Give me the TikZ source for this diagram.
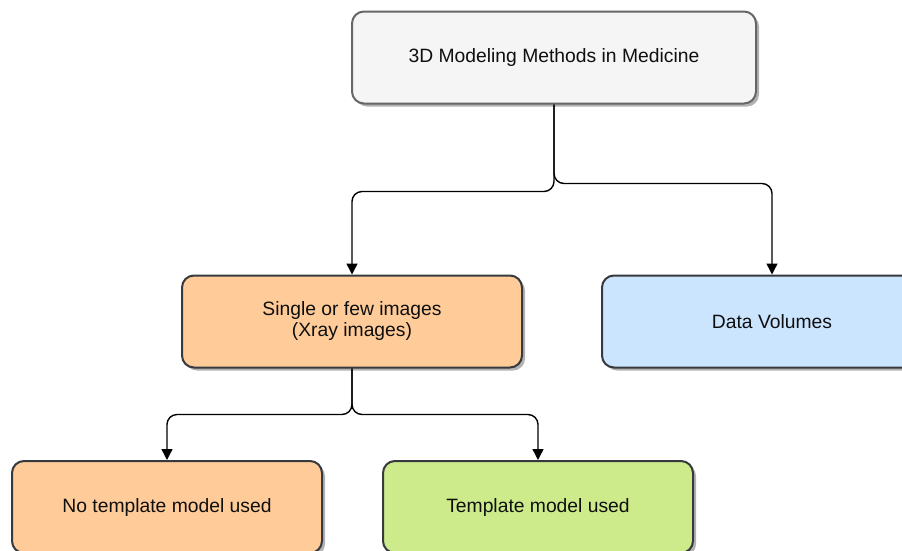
\documentclass[tikz,border=0pt]{standalone}
\usepackage{fontspec}
\setmainfont{Liberation Sans}
\usepackage{tikz}
\usetikzlibrary{positioning,arrows.meta,shadows}
\definecolor{colortop}    {RGB}{245,245,245}
\definecolor{colororange} {RGB}{255,204,153}
\definecolor{colorblue}   {RGB}{204,229,255}
\definecolor{colorgreen}  {RGB}{205,235,139}
\definecolor{colorborder} {RGB}{54 ,57 ,61 }
\definecolor{colorgrey}   {RGB}{102,102,102}
\definecolor{colortext}   {RGB}{15 ,15 ,15 }

\begin{document}
\begin{tikzpicture}[
    x=1pt, y=-1pt,
    font={\fontsize{19.3}{21}\selectfont},
    base/.style={text=colortext,align=center,rectangle,rounded corners=12pt,
        line width=2pt,draw=colorborder,inner sep=0pt,minimum height=92pt,
        drop shadow={shadow xshift=3pt,shadow yshift=-3pt,fill=black,opacity=0.3}},
    topbox/.style={base,fill=colortop,draw=colorgrey,minimum width=404pt},
    widebox/.style={base,minimum width=340pt},
    leafbox/.style={base,minimum width=310pt},
    conn/.style={-{Triangle[length=11pt,width=11pt]},line width=1.4pt,rounded corners=10pt},
]
    \useasboundingbox (0,0) rectangle (902,550);
    \clip (0,0) rectangle (902,550);

    % Nodes
    \node[topbox]                  at (554,57.5) (methods) {3D Modeling Methods in Medicine};
    \node[widebox,fill=colororange] at (352,321.5) (single)  {Single or few images\\(Xray images)};
    \node[widebox,fill=colorblue]   at (772,321.5) (volumes) {Data Volumes};
    \node[leafbox,fill=colororange] at (167,507)   (notempl) {No template model used};
    \node[leafbox,fill=colorgreen]  at (538,507)   (templ)   {Template model used};

    % Arrows
    \draw[conn] (methods.south) -- ++(0,87) -| (single.north);
    \draw[conn] (methods.south) -- ++(0,79) -| (volumes.north);
    \draw[conn] (single.south)  -- ++(0,46) -| (notempl.north);
    \draw[conn] (single.south)  -- ++(0,46) -| (templ.north);

\end{tikzpicture}
\end{document}
